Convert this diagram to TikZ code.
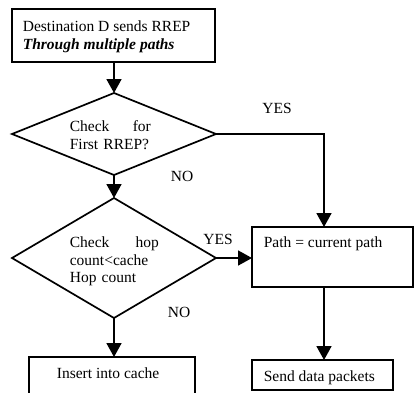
\documentclass[tikz,border=0pt]{standalone}
\usepackage{fontspec}
\setmainfont{Liberation Serif}
\usetikzlibrary{shapes.geometric,arrows.meta}
\begin{document}
\begin{tikzpicture}[x=1pt,y=-1pt,
  font=\fontsize{15.5}{17.5}\selectfont,
  line width=1.7pt,
  box/.style={draw, rectangle, anchor=north west, inner sep=0pt, outer sep=0pt},
  decision/.style={draw, diamond, inner sep=0pt, outer sep=0pt},
  txt/.style={anchor=north west, inner sep=0pt, align=left},
  lbl/.style={inner sep=0pt},
  arr/.style={-{Triangle[length=14pt,width=15pt]}}
]
\useasboundingbox (0,0) rectangle (414,392);

% boxes
\node[box, minimum width=203pt, minimum height=53pt] (start) at (12,9) {};
\node[txt] (starttxt) at (22,20) {Destination D sends RREP\\\textbf{\textit{Through multiple paths}}};

\node[box, minimum width=161pt, minimum height=60pt] (path) at (252,227) {};
\node[txt] (pathtxt) at (263,236) {Path = current path};

\node[box, minimum width=141pt, minimum height=30pt] (send) at (252,360) {};
\node[txt] (sendtxt) at (263,370) {Send data packets};

\node[box, minimum width=166pt, minimum height=42pt] (ins) at (29,357) {};
\node[txt] (instxt) at (56,367) {Insert into cache};

% decisions
\node[decision, minimum width=204pt, minimum height=82pt] (d1) at (114,134) {};
\node[txt, text width=81pt] (d1txt) at (69,120) {Check\hfill for\\First RREP?};

\node[decision, minimum width=204pt, minimum height=120pt] (d2) at (114,258) {};
\node[txt, text width=89pt] (d2txt) at (69,236) {Check\hfill hop\\count<cache\\Hop count};

% branch labels
\node[lbl] (yes1) at (277,108) {YES};
\node[lbl] (no1) at (182,176) {NO};
\node[lbl] (yes2) at (218,239) {YES};
\node[lbl] (no2) at (179,312) {NO};

% connectors
\coordinate (pin) at (324,227);
\draw[arr] (start.south -| d1.north) -- (d1.north);
\draw[arr] (d1.south) -- (d2.north);
\draw[arr] (d2.south) -- (d2.south |- ins.north);
\draw[arr] (d1.east) -| (pin);
\draw[arr] (d2.east) -- (d2.east -| path.west);
\draw[arr] (pin |- path.south) -- (pin |- send.north);
\end{tikzpicture}
\end{document}
